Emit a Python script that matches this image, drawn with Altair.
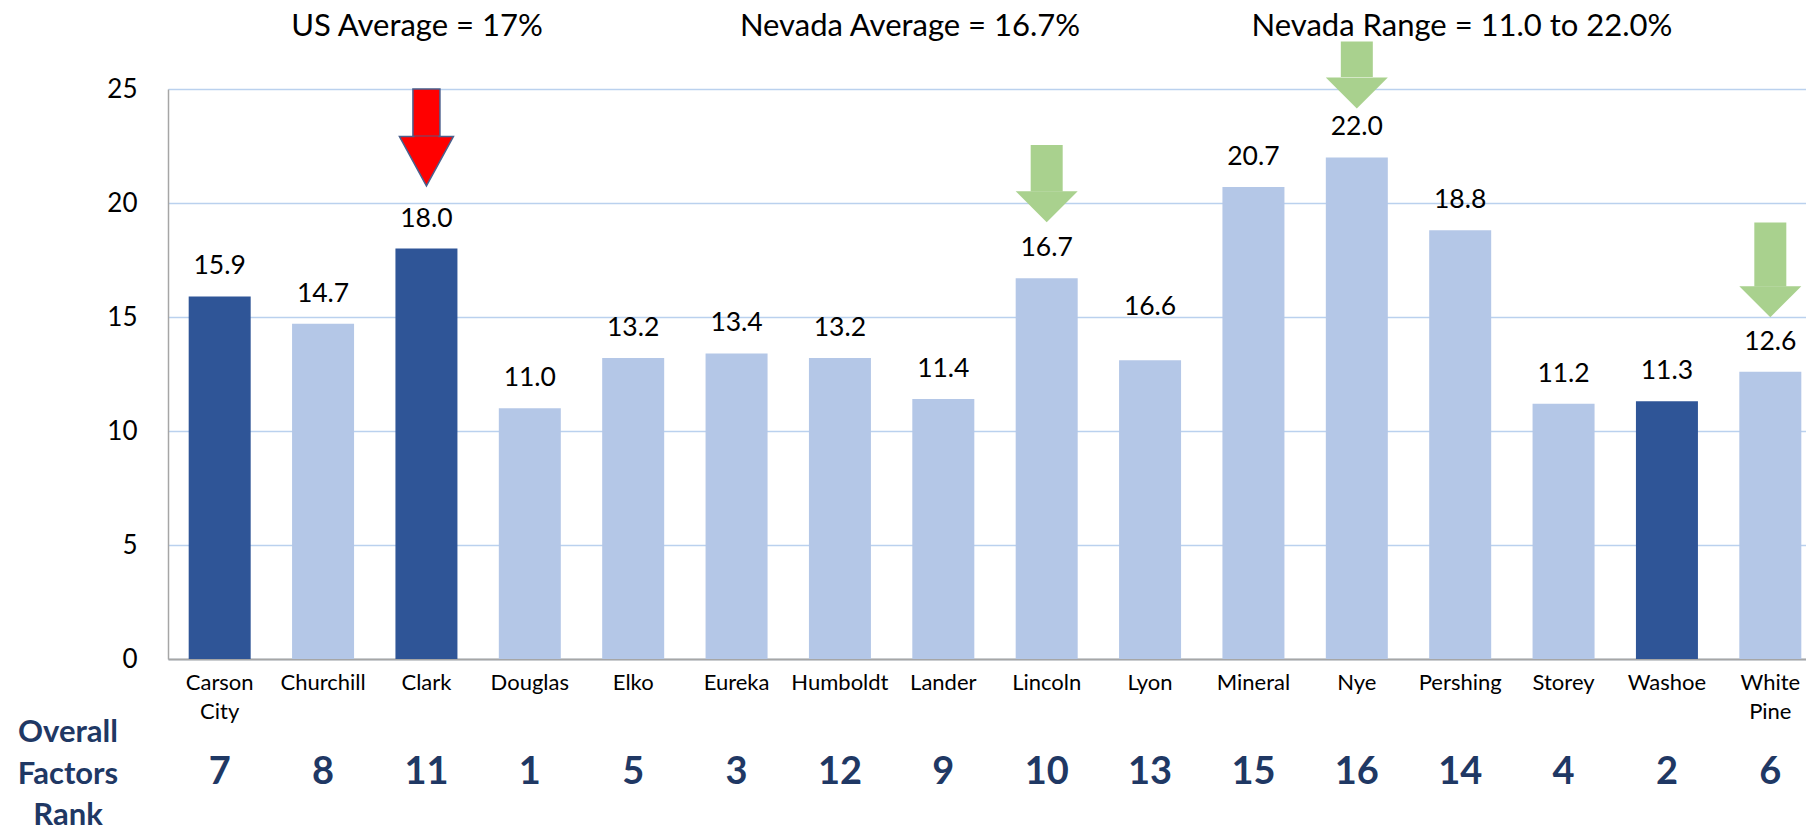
import altair as alt
import pandas as pd

counties = ["Carson City", "Churchill", "Clark", "Douglas", "Elko", "Eureka", "Humboldt",
            "Lander", "Lincoln", "Lyon", "Mineral", "Nye", "Pershing", "Storey", "Washoe",
            "White Pine"]
values = [15.9, 14.7, 18.0, 11.0, 13.2, 13.4, 13.2, 11.4, 16.7, 13.1, 20.7, 22.0, 18.8,
          11.2, 11.3, 12.6]
labels = ["15.9", "14.7", "18.0", "11.0", "13.2", "13.4", "13.2", "11.4", "16.7", "16.6",
          "20.7", "22.0", "18.8", "11.2", "11.3", "12.6"]
highlight = ["dark", "light", "dark", "light", "light", "light", "light", "light", "light",
             "light", "light", "light", "light", "light", "dark", "light"]
ranks = [7, 8, 11, 1, 5, 3, 12, 9, 10, 13, 15, 16, 14, 4, 2, 6]

# arrows (in axis units)
red_county = ["Clark"]
red_top = [25.0]
red_neck = [22.92]
red_tip = [20.75]

green_county = ["Lincoln", "Nye", "White Pine"]
green_top = [22.54, 27.08, 19.14]
green_neck = [20.5, 25.53, 16.34]
green_tip = [19.17, 24.11, 15.0]

titles = ["US Average = 17%", "Nevada Average = 16.7%", "Nevada Range = 11.0 to 22.0%"]
row_title = ["Overall", "Factors", "Rank"]

FONT = "Lato"
DARK = "#2F5597"
LIGHT = "#B4C7E7"
NAVY = "#1F3864"
GREEN = "#A9D18E"

df = pd.DataFrame({"county": counties, "value": values, "label": labels,
                   "group": highlight, "rank": ranks})
red_df = pd.DataFrame({"county": red_county, "top": red_top, "neck": red_neck, "tip": red_tip})
green_df = pd.DataFrame({"county": green_county, "top": green_top, "neck": green_neck,
                         "tip": green_tip})

xscale = alt.Scale(domain=counties, range=[0, 1654], paddingInner=0.4, paddingOuter=0.2)
yscale = alt.Scale(domain=[0, 25], nice=False)

x_enc = alt.X("county:N", scale=xscale, sort=counties,
              axis=alt.Axis(title=None, labelAngle=0, ticks=False, domainColor="#A6A6A6",
                            domainWidth=2, labelFontSize=22, labelColor="#000000",
                            labelPadding=13, labelLineHeight=29, labelLimit=0,
                            labelExpr="split(datum.label, ' ')", grid=False))

bars = alt.Chart(df).mark_bar(size=62).encode(
    x=x_enc,
    y=alt.Y("value:Q", scale=yscale,
            axis=alt.Axis(title=None, values=[0, 5, 10, 15, 20, 25], ticks=False,
                          domainColor="#A6A6A6", domainWidth=1.5, gridColor="#BAD1EE",
                          gridWidth=1.3, labelFontSize=26, labelColor="#000000",
                          labelPadding=31)),
    color=alt.Color("group:N", scale=alt.Scale(domain=["dark", "light"], range=[DARK, LIGHT]),
                    legend=None),
)

value_labels = alt.Chart(df).transform_filter(alt.datum.county != "Lyon").mark_text(
    fontSize=26.5, dy=-30, baseline="middle", color="#000000"
).encode(x=alt.X("county:N", scale=xscale, sort=counties), y=alt.Y("value:Q", scale=yscale),
         text="label:N")

lyon_label = alt.Chart(df).transform_filter(alt.datum.county == "Lyon").mark_text(
    fontSize=26.5, dy=-53, baseline="middle", color="#000000"
).encode(x=alt.X("county:N", scale=xscale, sort=counties), y=alt.Y("value:Q", scale=yscale),
         text="label:N")

rank_text = alt.Chart(df).mark_text(
    fontSize=38, fontWeight="bold", color=NAVY, baseline="middle"
).encode(x=alt.X("county:N", scale=xscale, sort=counties), y=alt.value(684), text="rank:N")

# red arrow
red_shaft = alt.Chart(red_df).mark_bar(size=27, color="#FF0000", stroke="#4A5F8C",
                                       strokeWidth=1.5).encode(
    x=alt.X("county:N", scale=xscale, sort=counties),
    y=alt.Y("top:Q", scale=yscale), y2="neck:Q")
red_head = alt.Chart(red_df).transform_calculate(mid="(datum.neck + datum.tip) / 2").mark_point(
    shape="M-1,-0.915L1,-0.915L0,0.915Z", size=54 * 54, filled=True, color="#FF0000",
    stroke="#4A5F8C", strokeWidth=1.5, opacity=1
).encode(x=alt.X("county:N", scale=xscale, sort=counties), y=alt.Y("mid:Q", scale=yscale))
red_cover = alt.Chart(red_df).mark_bar(size=24, color="#FF0000").encode(
    x=alt.X("county:N", scale=xscale, sort=counties),
    y=alt.Y("neck:Q", scale=yscale), y2=alt.Y2("mid:Q")
).transform_calculate(mid="datum.neck - 0.3")

# green arrows
green_shaft = alt.Chart(green_df).mark_bar(size=32, color=GREEN).encode(
    x=alt.X("county:N", scale=xscale, sort=counties),
    y=alt.Y("top:Q", scale=yscale), y2="neck:Q")
green_head = alt.Chart(green_df).transform_calculate(mid="(datum.neck + datum.tip) / 2").mark_point(
    shape="M-1,-0.5L1,-0.5L0,0.5Z", size=62 * 62, filled=True, color=GREEN, opacity=1,
    strokeWidth=0
).encode(x=alt.X("county:N", scale=xscale, sort=counties), y=alt.Y("mid:Q", scale=yscale))

title_x = [249, 742, 1294]
title_layers = []
for t, xv in zip(titles, title_x):
    title_layers.append(
        alt.Chart(pd.DataFrame({"t": [t]})).mark_text(
            fontSize=31, baseline="middle", align="center", color="#000000"
        ).encode(text="t:N", x=alt.value(xv), y=alt.value(-62))
    )

row_title_layer = alt.Chart(pd.DataFrame({"t": [row_title]})).mark_text(
    fontSize=31, fontWeight="bold", color=NAVY, align="center", baseline="alphabetic",
    lineHeight=41.5, text=row_title
).encode(x=alt.value(-100), y=alt.value(653))

chart = alt.layer(
    bars, value_labels, lyon_label, rank_text,
    green_shaft, green_head, red_shaft, red_head, red_cover,
    *title_layers, row_title_layer
).properties(
    width=1638, height=570,
    padding={"left": 160, "top": 81, "right": 0, "bottom": 169},
    autosize=alt.AutoSizeParams(type="none"),
).configure(font=FONT).configure_view(stroke=None)

chart.save("out.html", embed_options={"renderer": "svg", "actions": False})
